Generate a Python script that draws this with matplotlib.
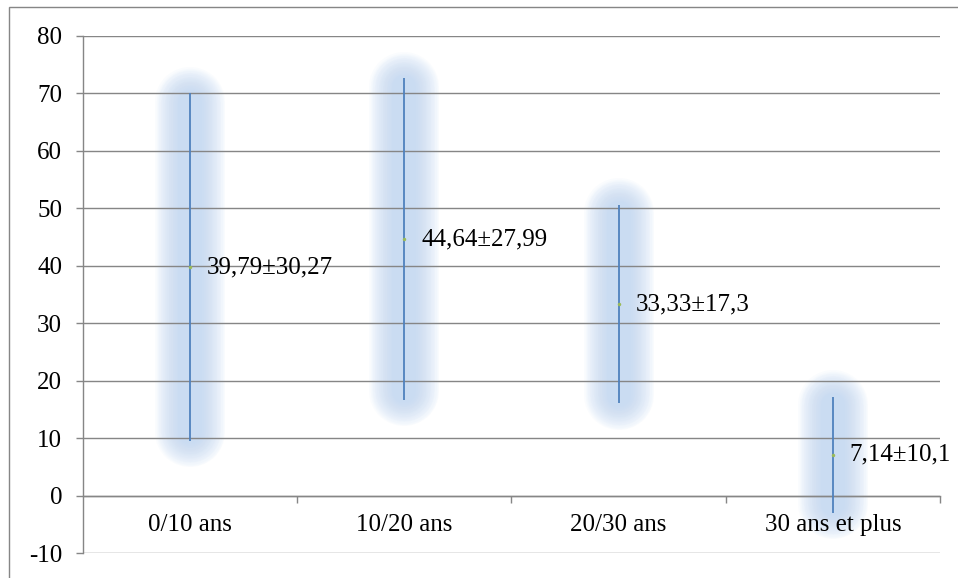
import numpy as np
import matplotlib
matplotlib.use("Agg")
import matplotlib.pyplot as plt
from matplotlib.patches import Rectangle

categories = ["0/10 ans", "10/20 ans", "20/30 ans", "30 ans et plus"]
means = [39.79, 44.64, 33.33, 7.14]
sds = [30.27, 27.99, 17.3, 10.1]
labels = ["39,79±30,27", "44,64±27,99", "33,33±17,3", "7,14±10,1"]
yticks = [-10, 0, 10, 20, 30, 40, 50, 60, 70, 80]

GRAY = "#868686"
FONT = "Liberation Serif"
FS = 18

fig = plt.figure(figsize=(9.58, 5.78), dpi=100)
ax = fig.add_axes([83/958, 1-553/578, (940-83)/958, (553-36)/578])

x = np.arange(len(categories))
means_a = np.array(means)
sds_a = np.array(sds)

# soft glow behind error bars
px2pt = 72/100
widths = np.linspace(70, 24, 18)
for w in widths:
    for xi, m, s in zip(x, means_a, sds_a):
        ax.plot([xi, xi], [m - s + 1.5, m + s - 1.5], color="#bcd4f2", alpha=0.065,
                lw=w*px2pt, solid_capstyle="round", zorder=0.1)

ax.errorbar(x, means_a, yerr=sds_a, fmt="none", ecolor="#4f81bd",
            elinewidth=1.8*px2pt, capsize=0, zorder=3)
ax.plot(x, means_a, "o", color="#9bbb59", ms=2.5, mec="none", zorder=4)

for xi, m, lab in zip(x, means_a, labels):
    ax.annotate(lab, (xi, m), xytext=(17*px2pt, 0), textcoords="offset points",
                va="center", ha="left", fontsize=FS, family=FONT, zorder=5)

ax.set_xlim(-0.5, len(categories) - 0.5)
ax.set_ylim(-10, 80)
ax.set_yticks(yticks)
ax.set_yticklabels([str(v) for v in yticks], family=FONT, fontsize=FS)
ax.grid(axis="y", color=GRAY, lw=1.4*px2pt, zorder=0.5)
ax.set_axisbelow(True)

ax.spines["top"].set_visible(False)
ax.spines["right"].set_visible(False)
ax.spines["left"].set_color(GRAY)
ax.spines["left"].set_linewidth(1.4*px2pt)
ax.spines["bottom"].set_position(("data", 0))
ax.spines["bottom"].set_color(GRAY)
ax.spines["bottom"].set_linewidth(1.4*px2pt)

ax.set_xticks(x + 0.5)
ax.set_xticklabels([])
ax.set_xticks(x, minor=True)
ax.set_xticklabels(categories, minor=True, family=FONT, fontsize=FS)
ax.tick_params(axis="x", which="major", direction="out", length=7*px2pt,
               color=GRAY, width=1.4*px2pt)
ax.tick_params(axis="x", which="minor", length=0, pad=13)
ax.tick_params(axis="y", direction="out", length=7*px2pt, color=GRAY,
               width=1.4*px2pt, pad=10)

fig.patches.append(Rectangle((9/958, -0.1), 1.2, (578-6.5)/578 + 0.1,
                             transform=fig.transFigure, fill=False,
                             ec=GRAY, lw=1.4*px2pt))

fig.savefig("out.png", dpi=100)
